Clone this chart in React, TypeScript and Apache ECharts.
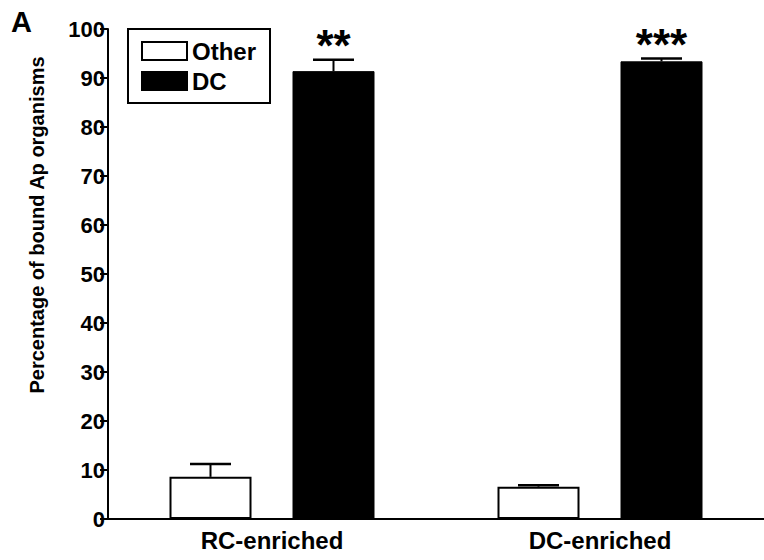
import React, { useEffect, useRef } from "react";
import * as echarts from "echarts";

const categories = ["RC-enriched", "DC-enriched"];
const seriesNames = ["Other", "DC"];
const otherValues = [8.6, 6.6];
const dcValues = [91.4, 93.4];
const otherErrors = [2.6, 0.3];
const dcErrors = [2.3, 0.6];
const otherStars = ["", ""];
const dcStars = ["**", "***"];
const yTicks = { min: 0, max: 100, interval: 10 };
const yTitle = "Percentage of bound Ap organisms";
const panelLabel = "A";

const FONT = "'Liberation Sans', Arial, Helvetica, sans-serif";

export default function App() {
  const ref = useRef<HTMLDivElement>(null);
  useEffect(() => {
    if (!ref.current) return;
    const chart = echarts.init(ref.current, null, { renderer: "svg" });

    const errData: number[][] = [];
    const stars: string[] = [];
    categories.forEach((_, i) => {
      errData.push([i, otherValues[i], otherValues[i] + otherErrors[i], 0]);
      stars.push(otherStars[i]);
      errData.push([i, dcValues[i], dcValues[i] + dcErrors[i], 1]);
      stars.push(dcStars[i]);
    });

    chart.setOption({
      animation: false,
      backgroundColor: "#ffffff",
      textStyle: { fontFamily: FONT },
      grid: { left: 108, top: 29, width: 659, height: 490, containLabel: false },
      legend: {
        orient: "vertical",
        left: 128,
        top: 29,
        padding: [10, 14, 10, 13],
        borderColor: "#000",
        borderWidth: 2,
        itemWidth: 45,
        itemHeight: 18,
        itemGap: 6,
        icon: "rect",
        textStyle: { fontFamily: FONT, fontWeight: "bold", fontSize: 24, color: "#000" },
        data: seriesNames,
      },
      xAxis: {
        type: "category",
        data: categories,
        axisLine: { lineStyle: { color: "#000", width: 2 } },
        axisTick: { alignWithLabel: true, length: 8, lineStyle: { color: "#000", width: 2 } },
        axisLabel: { fontFamily: FONT, fontWeight: "bold", fontSize: 24, color: "#000", margin: 9 },
        splitLine: { show: false },
      },
      yAxis: {
        type: "value",
        min: yTicks.min,
        max: yTicks.max,
        interval: yTicks.interval,
        axisLine: { show: true, lineStyle: { color: "#000", width: 2 } },
        axisTick: { show: true, length: 8, lineStyle: { color: "#000", width: 2 } },
        axisLabel: { fontFamily: FONT, fontWeight: "bold", fontSize: 22, color: "#000", margin: 3 },
        splitLine: { show: false },
      },
      graphic: [
        {
          type: "text",
          x: 37,
          y: 225,
          rotation: Math.PI / 2,
          style: {
            text: yTitle,
            fontFamily: FONT,
            fontWeight: "bold",
            fontSize: 20,
            fill: "#000",
            align: "center",
            verticalAlign: "middle",
          },
        },
        {
          type: "text",
          x: 11,
          y: 22,
          style: {
            text: panelLabel,
            fontFamily: FONT,
            fontWeight: "bold",
            fontSize: 29,
            fill: "#000",
            align: "left",
            verticalAlign: "middle",
          },
        },
      ],
      series: [
        {
          name: seriesNames[0],
          type: "bar",
          data: otherValues,
          barWidth: "25%",
          barGap: "50%",
          itemStyle: { color: "#fff", borderColor: "#000", borderWidth: 2 },
        },
        {
          name: seriesNames[1],
          type: "bar",
          data: dcValues,
          barWidth: "25%",
          barGap: "50%",
          itemStyle: { color: "#000", borderColor: "#000", borderWidth: 1 },
        },
        {
          type: "custom",
          data: errData,
          z: 10,
          silent: true,
          renderItem: (params: any, api: any) => {
            const c = api.value(0);
            const mean = api.value(1);
            const hi = api.value(2);
            const s = api.value(3);
            const band = api.size([1, 0])[0];
            const off = (s === 0 ? -1 : 1) * band * 0.1875;
            const p0 = api.coord([c, mean]);
            const p1 = api.coord([c, hi]);
            const x = p0[0] + off;
            const half = band * 0.25 * 0.25;
            const st = stars[params.dataIndex];
            const children: any[] = [
              {
                type: "line",
                shape: { x1: x, y1: p0[1], x2: x, y2: p1[1] },
                style: { stroke: "#000", lineWidth: 2 },
              },
              {
                type: "line",
                shape: { x1: x - half, y1: p1[1], x2: x + half, y2: p1[1] },
                style: { stroke: "#000", lineWidth: 2.5 },
              },
            ];
            if (st) {
              children.push({
                type: "text",
                x: x,
                y: p1[1] + 8,
                style: {
                  text: st,
                  fontFamily: FONT,
                  fontWeight: "bold",
                  fontSize: 44,
                  fill: "#000",
                  align: "center",
                  verticalAlign: "bottom",
                },
              });
            }
            return { type: "group", children };
          },
        },
      ],
    });
    return () => chart.dispose();
  }, []);
  return (
    <div
      ref={ref}
      style={{ position: "fixed", left: 0, top: 0, width: 764, height: 560, background: "#fff" }}
    />
  );
}
